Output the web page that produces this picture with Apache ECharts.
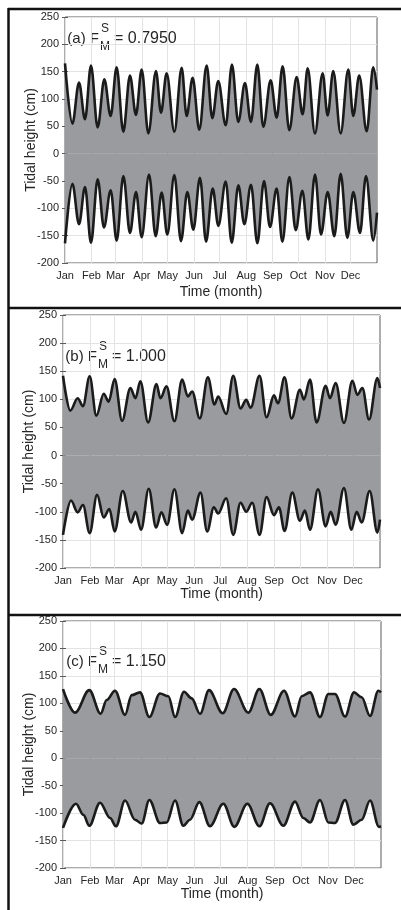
<!DOCTYPE html>
<html>
<head>
<meta charset="utf-8">
<script src="https://cdn.jsdelivr.net/npm/echarts@6/dist/echarts.min.js"></script>
<style>
  html, body { margin: 0; padding: 0; background: #fff; }
  #chart { width: 401px; height: 910px; }
</style>
</head>
<body>
<div id="chart"></div>
<script>
  // month axis (day of year)
  const monthNames = ['Jan', 'Feb', 'Mar', 'Apr', 'May', 'Jun', 'Jul', 'Aug', 'Sep', 'Oct', 'Nov', 'Dec'];
  const monthStarts = [0, 31, 59, 90, 120, 151, 181, 212, 243, 273, 304, 334];

  // panel labels
  const panelTags = ['(a) F', '(b) F', '(c) F'];
  const fsValues = ['= 0.7950', '= 1.000', '= 1.150'];

  // (a) high / low envelopes, turning points
  const daysUpA = [0, 8.6, 16.4, 23.4, 30.4, 38.2, 46, 53.4, 60.4, 68.2, 76, 83, 89.7, 97.5, 106.4, 112.3, 118.9, 127.9, 136.5, 142.3, 149.3, 157.1, 165.7, 172.3, 179.3, 188, 195.3, 202.7, 210.5, 217.5, 225, 232, 240.6, 247.6, 254.6, 262.4, 271, 278, 283.9, 292.4, 301.4, 307.2, 313.8, 322.5, 331.4, 337.2, 344.2, 352.9, 360.6, 365];
  const upA = [165, 55, 130, 63, 161, 48, 136, 69, 158, 40, 143, 71, 154, 37, 151, 75, 147, 40, 157, 69, 139, 44, 161, 65, 133, 52, 163, 58, 129, 58, 163, 49, 134, 66, 160, 43, 140, 72, 156, 37, 147, 70, 151, 37, 154, 69, 143, 41, 158, 117];
  const daysLowA = [0, 8.6, 16.4, 23.4, 30.4, 38.2, 45.6, 53.4, 60.4, 68.3, 76, 83.1, 89.7, 98.3, 106.1, 113.1, 119.7, 127.9, 135.7, 143.1, 150.1, 157.9, 165, 172.8, 179.4, 188, 195, 202.8, 209.8, 217.6, 225, 232.8, 239.8, 247.6, 254.3, 262.5, 269.9, 277.7, 284.7, 292.5, 299.5, 307.3, 315.1, 322.5, 330.3, 337.3, 345.1, 352.1, 360.7, 365];
  const lowA = [-164, -55, -129, -61, -163, -47, -135, -67, -159, -41, -145, -70, -153, -38, -151, -71, -148, -39, -160, -70, -139, -44, -161, -64, -132, -51, -163, -58, -129, -57, -164, -50, -134, -64, -161, -43, -140, -68, -157, -38, -148, -70, -151, -37, -154, -70, -145, -41, -159, -108];

  // (b)
  const daysUpB = [0, 8.4, 16.9, 23, 30.7, 38.4, 46.9, 52.6, 59.5, 68, 77.6, 83.4, 89.1, 98, 107.6, 112.2, 119.1, 128.3, 137.2, 143.7, 148.7, 157.5, 166.8, 174.4, 178.7, 187.9, 196, 204.4, 211, 216, 226.3, 234.4, 242.9, 247.5, 255.1, 263.2, 272.8, 277.4, 284.4, 292, 302.4, 307.4, 313.9, 323.5, 333.2, 338.9, 344.7, 352.4, 362, 365];
  const upB = [142, 80, 102, 88, 141, 71, 110, 96, 136, 62, 120, 102, 132, 59, 127, 102, 123, 61, 135, 105, 114, 66, 139, 91, 105, 74, 142, 84, 99, 85, 142, 68, 107, 93, 139, 66, 117, 100, 135, 59, 124, 102, 129, 58, 133, 108, 120, 64, 138, 120];
  const daysLowB = [0, 9.2, 16.9, 23, 30.7, 39.2, 46.9, 53.4, 59.5, 68.8, 78.4, 83.4, 89.9, 98.7, 107.2, 113.3, 119.9, 128.3, 137.2, 143.7, 148.7, 158.3, 166, 173.7, 178.7, 187.9, 196, 204.4, 211, 217.9, 226.3, 234.4, 242.9, 248.6, 255.1, 264, 272.8, 278.6, 284.4, 293.6, 302.4, 308.2, 313.9, 323.5, 332, 338.1, 343.9, 353.1, 362, 365];
  const lowB = [-141, -80, -101, -88, -138, -70, -110, -95, -135, -63, -119, -100, -132, -59, -128, -101, -123, -60, -138, -98, -114, -66, -135, -92, -103, -76, -141, -84, -100, -84, -141, -74, -106, -92, -134, -66, -116, -98, -132, -60, -126, -100, -123, -58, -132, -100, -119, -63, -137, -114];

  // (c)
  const daysUpC = [0, 13.8, 30.2, 43.2, 50.1, 59.7, 71.2, 78.8, 88.4, 99.1, 111.3, 120.9, 128.6, 138.9, 147.7, 157.3, 167.6, 183.3, 196.3, 212.7, 225.4, 238.4, 253.7, 266.3, 274, 283.5, 295, 304.6, 312.2, 323.7, 334, 342.8, 352.4, 362, 365];
  const upC = [126, 83, 124, 81, 106, 123, 79, 115, 120, 75, 118, 113, 75, 121, 109, 81, 124, 82, 126, 83, 126, 79, 123, 76, 113, 120, 75, 117, 117, 76, 120, 111, 77, 123, 120];
  const daysLowC = [0, 14.9, 23.3, 30.2, 42.5, 54, 60.8, 71.2, 82.6, 90.3, 99.1, 111.3, 119, 128.6, 138.1, 145.8, 156.5, 168.7, 184, 196.7, 211.6, 225.4, 237.6, 252.9, 266.3, 275.9, 283.5, 295, 304.6, 312.2, 323.7, 333.2, 342.8, 352.4, 362.7, 365];
  const lowC = [-127, -83, -103, -123, -81, -109, -124, -77, -112, -119, -76, -118, -117, -77, -123, -112, -80, -124, -83, -125, -83, -124, -82, -123, -79, -109, -117, -76, -117, -118, -76, -121, -112, -77, -125, -124];

  const upper = [[daysUpA, upA], [daysUpB, upB], [daysUpC, upC]];
  const lower = [[daysLowA, lowA], [daysLowB, lowB], [daysLowC, lowC]];

  // layout of the three plot boxes (px)
  const boxes = [
    { left: 65, top: 17, width: 312, height: 246, title: 39, nameGap: 22 },
    { left: 63, top: 315, width: 317, height: 253, title: 357, nameGap: 19 },
    { left: 63, top: 621, width: 318, height: 247, title: 662, nameGap: 19 },
  ];

  const FONT = '"Liberation Sans", Arial, sans-serif';
  const txt = '#262626';
  const fillGray = '#9a9b9f';

  const toPairs = (xs, ys) => xs.map((x, i) => [x, ys[i]]);

  const grid = [], xAxis = [], yAxis = [], series = [], graphic = [];

  boxes.forEach((b, i) => {
    grid.push({
      left: b.left, top: b.top, width: b.width, height: b.height,
      show: true, borderColor: '#5a5a5a', borderWidth: 1, backgroundColor: '#fff',
    });
    xAxis.push({
      type: 'value', gridIndex: i, min: 0, max: 365,
      name: 'Time (month)', nameLocation: 'middle', nameGap: b.nameGap, nameMoveOverlap: false,
      nameTextStyle: { fontFamily: FONT, fontSize: 14, color: txt },
      axisLine: { show: false },
      axisTick: { inside: true, length: 3, lineStyle: { color: '#5a5a5a' }, customValues: monthStarts },
      axisLabel: {
        customValues: monthStarts, margin: 7, fontFamily: FONT, fontSize: 11, color: txt,
        formatter: (v) => monthNames[monthStarts.indexOf(v)] || '',
      },
      splitLine: { show: true, lineStyle: { color: '#e3e3e3', width: 1 } },
    });
    // top ticks only
    xAxis.push({
      type: 'value', gridIndex: i, min: 0, max: 365, position: 'top',
      axisLine: { show: false },
      axisTick: { inside: true, length: 3, lineStyle: { color: '#5a5a5a' }, customValues: monthStarts },
      axisLabel: { show: false },
      splitLine: { show: false },
    });
    yAxis.push({
      type: 'value', gridIndex: i, min: -200, max: 250, interval: 50,
      name: 'Tidal height (cm)', nameLocation: 'middle', nameGap: 27, nameMoveOverlap: false,
      nameTextStyle: { fontFamily: FONT, fontSize: 14, color: txt },
      axisLine: { show: false },
      axisTick: { show: true, inside: true, length: 3, lineStyle: { color: '#5a5a5a' } },
      axisLabel: { margin: 6, fontFamily: FONT, fontSize: 11, color: txt },
      splitLine: { show: true, lineStyle: { color: '#e3e3e3', width: 1 } },
    });
    yAxis.push({
      type: 'value', gridIndex: i, min: -200, max: 250, interval: 50, position: 'right',
      axisLine: { show: false },
      axisTick: { show: true, inside: true, length: 3, lineStyle: { color: '#5a5a5a' } },
      axisLabel: { show: false },
      splitLine: { show: false },
    });

    [upper[i], lower[i]].forEach(([xs, ys]) => {
      series.push({
        type: 'line', xAxisIndex: i * 2, yAxisIndex: i * 2,
        data: toPairs(xs, ys),
        smooth: 0.35, smoothMonotone: 'x',
        symbol: 'none', silent: true,
        lineStyle: { color: '#1b1b1b', width: 2.6 },
        areaStyle: { color: fillGray, opacity: 1 },
      });
    });

    // panel title  "(a) F^S_M = 0.7950"
    const tx = b.left + 34;
    graphic.push(
      { type: 'text', x: tx, y: b.title, style: { text: panelTags[i], font: '15px ' + FONT, fill: txt, align: 'right', verticalAlign: 'middle' } },
      { type: 'text', x: tx + 2, y: b.title - 10, style: { text: 'S', font: '12px ' + FONT, fill: txt, align: 'left', verticalAlign: 'middle' } },
      { type: 'text', x: tx + 1, y: b.title + 8, style: { text: 'M', font: '12px ' + FONT, fill: txt, align: 'left', verticalAlign: 'middle' } },
      { type: 'text', x: tx + 15, y: b.title, style: { text: fsValues[i], font: '16px ' + FONT, fill: txt, align: 'left', verticalAlign: 'middle' } }
    );
  });

  // black frame around the panels
  const frame = { stroke: '#111', lineWidth: 2.5 };
  [9, 308, 615].forEach((y) => {
    graphic.push({ type: 'line', shape: { x1: 8, y1: y, x2: 401, y2: y }, style: frame, z: 10 });
  });
  graphic.push({ type: 'line', shape: { x1: 8.5, y1: 8, x2: 8.5, y2: 910 }, style: frame, z: 10 });

  const chart = echarts.init(document.getElementById('chart'), null, { renderer: 'canvas' });
  chart.setOption({
    animation: false,
    backgroundColor: '#fff',
    grid, xAxis, yAxis, series, graphic,
  });
</script>
</body>
</html>
